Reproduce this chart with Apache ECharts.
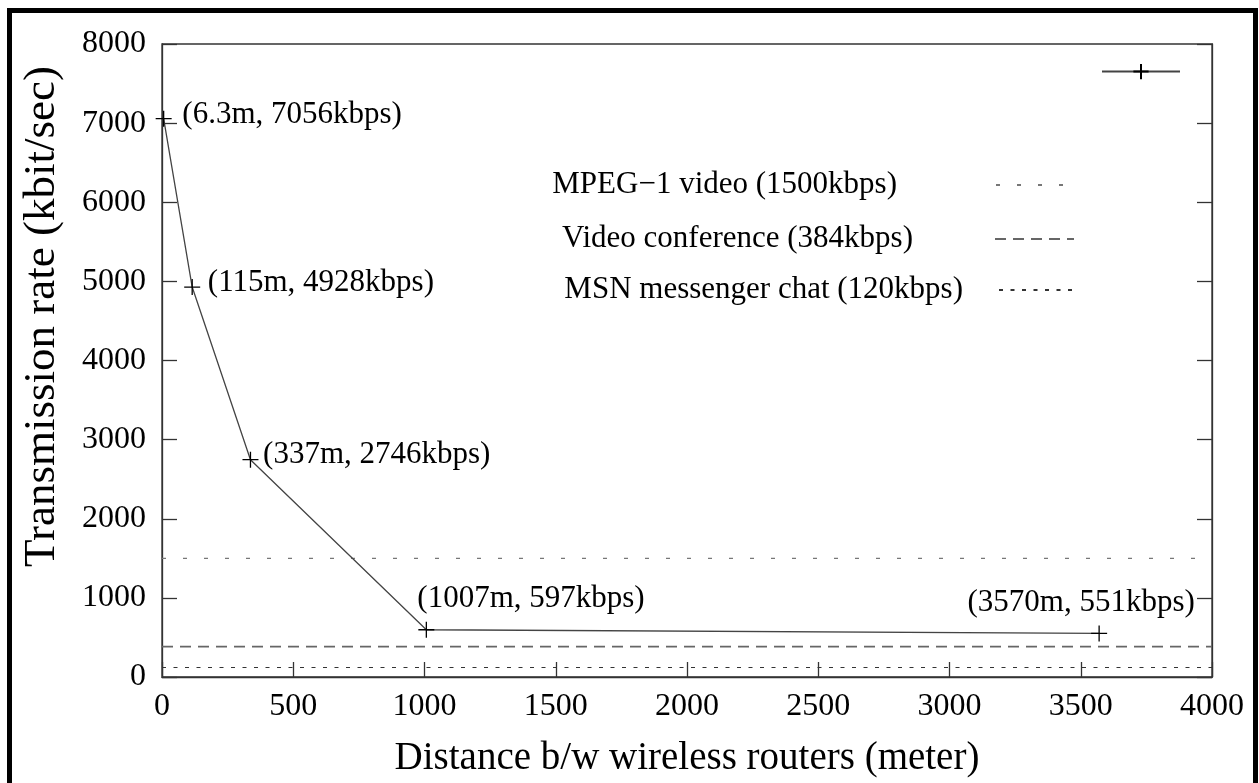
<!DOCTYPE html>
<html>
<head>
<meta charset="utf-8">
<title>Transmission rate vs distance</title>
<script src="https://cdn.jsdelivr.net/npm/echarts@6/dist/echarts.min.js"></script>
<style>
  html, body { margin: 0; padding: 0; background: #fff; }
  #chart { width: 1259px; height: 783px; }
</style>
</head>
<body>
<div id="chart"></div>
<script>
// measured points (distance in m, rate in kbps)
const distM = [6.3, 115, 337, 1007, 3570]
const rateKbps = [7056, 4928, 2746, 597, 551]

// reference application rates
const refNames = ['MPEG−1 video (1500kbps)', 'Video conference (384kbps)', 'MSN messenger chat (120kbps)']
const refRates = [1500, 384, 120]

// axis ranges
const xRange = [0, 4000, 500]
const yRange = [0, 8000, 1000]

const FONT = 'Liberation Serif'
const AXIS_COLOR = '#333'

// label placement per point: first three sit right of the cross, last two above
const labelPlace = [
  { position: 'right', distance: 10, offset: [0, -4] },
  { position: 'right', distance: 7, offset: [0, -4] },
  { position: 'right', distance: 4, offset: [0, -5] },
  { position: 'top', align: 'left', distance: 7, offset: [-9, 0] },
  { position: 'top', distance: 6, offset: [-18, 0] },
]

const mainData = distM.map((d, i) => {
  return {
    value: [d, rateKbps[i]],
    label: Object.assign({ show: true }, labelPlace[i]),
  }
})

const refStyles = [
  { type: [4, 17], color: '#777', width: 1.3 },
  { type: [11, 7], color: '#666', width: 1.6 },
  { type: [4, 7.5], color: '#333', width: 1.2 },
]

const refSeries = refNames.map((name, i) => {
  return {
    name: name,
    type: 'line',
    symbol: 'none',
    silent: true,
    data: [[xRange[0], refRates[i]], [xRange[1], refRates[i]]],
    lineStyle: refStyles[i],
    itemStyle: { color: refStyles[i].color },
    z: 1,
  }
})

// legend boxes: icon right edge / top / text padding
const legendPlace = [
  { right: 189, top: 168, itemWidth: 73, pad: 94 },
  { right: 184, top: 222, itemWidth: 79, pad: 77 },
  { right: 182, top: 273, itemWidth: 77, pad: 31 },
]

const refLegends = refNames.map((name, i) => {
  const p = legendPlace[i]
  return {
    data: [{ name: name, textStyle: { padding: [0, p.pad, 0, 0] } }],
    right: p.right,
    top: p.top,
    align: 'right',
    padding: 0,
    itemWidth: p.itemWidth,
    itemHeight: 14,
    itemStyle: { opacity: 0 },
    selectedMode: false,
    textStyle: { fontFamily: FONT, fontSize: 31, color: '#000', lineHeight: 34 },
  }
})

const plainNum = (v) => String(v)

const myChart = echarts.init(document.getElementById('chart'))

const option = {
  animation: false,
  backgroundColor: '#fff',
  textStyle: { fontFamily: FONT },
  graphic: [
    {
      type: 'rect',
      silent: true,
      shape: { x: 9.5, y: 10.5, width: 1246, height: 820 },
      style: { fill: 'none', stroke: '#000', lineWidth: 5 },
    },
  ],
  grid: {
    left: 162,
    right: 47,
    top: 44,
    bottom: 105,
    show: true,
    borderColor: AXIS_COLOR,
    borderWidth: 1.3,
  },
  legend: [
    {
      data: ['rate'],
      right: 78,
      top: 63,
      align: 'right',
      padding: 0,
      itemWidth: 78,
      itemHeight: 19,
      selectedMode: false,
      formatter: () => '',
      textStyle: { fontSize: 8, lineHeight: 8 },
    },
  ].concat(refLegends),
  xAxis: {
    type: 'value',
    min: xRange[0],
    max: xRange[1],
    interval: xRange[2],
    name: 'Distance b/w wireless routers (meter)',
    nameLocation: 'middle',
    nameGap: 62,
    nameTextStyle: { fontFamily: FONT, fontSize: 39, color: '#000' },
    axisLine: { show: true, lineStyle: { color: AXIS_COLOR, width: 1.3 } },
    axisTick: { show: true, inside: true, length: 15, lineStyle: { color: AXIS_COLOR, width: 1.3 } },
    axisLabel: { fontFamily: FONT, fontSize: 32, color: '#000', margin: 14, formatter: plainNum },
    splitLine: { show: false },
  },
  yAxis: [
    {
      type: 'value',
      min: yRange[0],
      max: yRange[1],
      interval: yRange[2],
      name: 'Transmission rate (kbit/sec)',
      nameLocation: 'middle',
      nameGap: 97,
      nameTextStyle: { fontFamily: FONT, fontSize: 45, color: '#000', padding: [0, 0, 0, 88] },
      axisLine: { show: true, lineStyle: { color: AXIS_COLOR, width: 1.3 } },
      axisTick: { show: true, inside: true, length: 15, lineStyle: { color: AXIS_COLOR, width: 1.3 } },
      axisLabel: { fontFamily: FONT, fontSize: 32, color: '#000', margin: 16, formatter: plainNum },
      splitLine: { show: false },
    },
    {
      // mirrored ticks on the right border
      type: 'value',
      position: 'right',
      min: yRange[0],
      max: yRange[1],
      interval: yRange[2],
      axisLine: { show: true, lineStyle: { color: AXIS_COLOR, width: 1.3 } },
      axisTick: { show: true, inside: true, length: 15, lineStyle: { color: AXIS_COLOR, width: 1.3 } },
      axisLabel: { show: false },
      splitLine: { show: false },
    },
  ],
  series: [
    {
      name: 'rate',
      type: 'line',
      data: mainData,
      symbol: 'path://M5,0L5,10M0,5L10,5',
      symbolSize: 16,
      symbolKeepAspect: false,
      lineStyle: { color: '#444', width: 1.3 },
      itemStyle: { color: '#000', borderColor: '#000', borderWidth: 1.3 },
      label: {
        fontFamily: FONT,
        fontSize: 31,
        color: '#000',
        formatter: (p) => '(' + p.value[0] + 'm, ' + p.value[1] + 'kbps)',
      },
      z: 3,
    },
  ].concat(refSeries),
}

myChart.setOption(option)
</script>
</body>
</html>
